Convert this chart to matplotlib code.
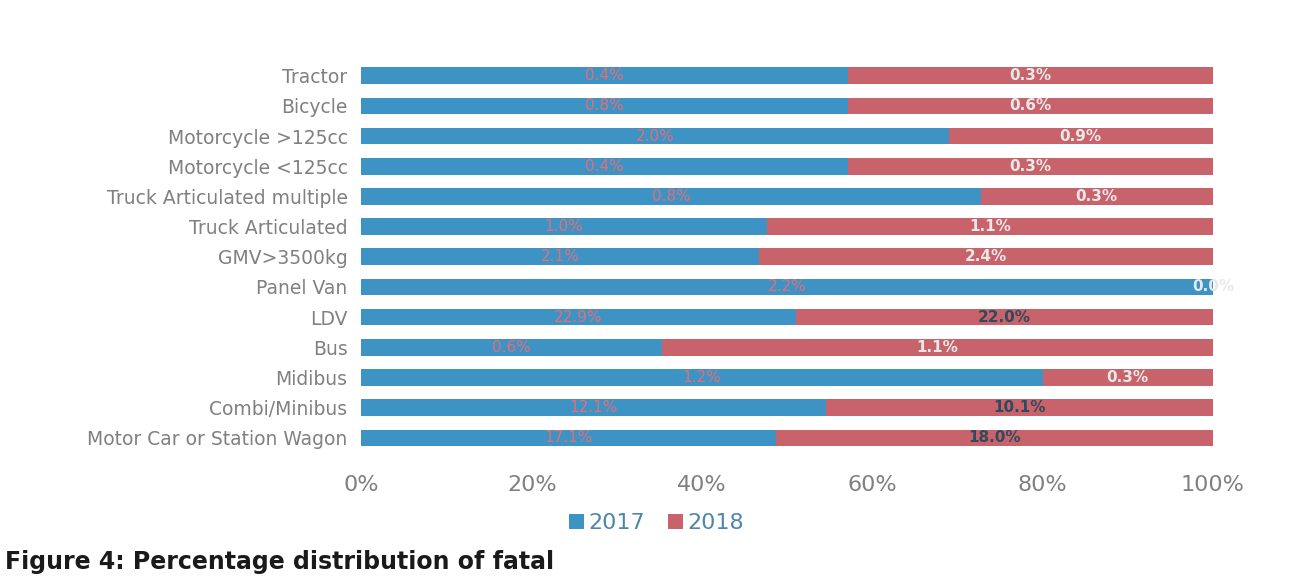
import numpy as np
import matplotlib
matplotlib.use("Agg")
import matplotlib.pyplot as plt

# vehicle types, top to bottom as in the figure
categories = ["Tractor", "Bicycle", "Motorcycle >125cc", "Motorcycle <125cc",
              "Truck Articulated multiple", "Truck Articulated", "GMV>3500kg",
              "Panel Van", "LDV", "Bus", "Midibus", "Combi/Minibus",
              "Motor Car or Station Wagon"]

# share of fatalities (%) per year, as printed in the bars
pct_2017 = [0.4, 0.8, 2.0, 0.4, 0.8, 1.0, 2.1, 2.2, 22.9, 0.6, 1.2, 12.1, 17.1]
pct_2018 = [0.3, 0.6, 0.9, 0.3, 0.3, 1.1, 2.4, 0.0, 22.0, 1.1, 0.3, 10.1, 18.0]

ticks = [0, 20, 40, 60, 80, 100]

blue = "#3d93c3"
red = "#c9636b"

a = np.array(pct_2017)
b = np.array(pct_2018)
tot = a + b
share17 = a / tot * 100
share18 = b / tot * 100

fig = plt.figure(figsize=(13, 5.77), dpi=100)
ax = fig.add_axes([0.278, 0.215, 0.655, 0.68])

y = np.arange(len(categories))
ax.barh(y, share17, height=0.55, color=blue, label="2017")
ax.barh(y, share18, left=share17, height=0.55, color=red, label="2018")

# data labels
for i in range(len(categories)):
    ax.text(share17[i] / 2, y[i], f"{pct_2017[i]:.1f}%", ha="center", va="center",
            fontsize=11, color="#e0707a")
    ax.text(share17[i] + share18[i] / 2, y[i], f"{pct_2018[i]:.1f}%", ha="center",
            va="center", fontsize=11, color="#e8e8e8" if pct_2018[i] < 5 else "#2f4a5c",
            fontweight="bold")

ax.set_ylim(len(categories) - 0.5, -0.5)
ax.set_xlim(0, 100)
ax.set_yticks(y)
ax.set_yticklabels(categories, fontsize=13.5, color="#808080")
ax.set_xticks(ticks)
ax.set_xticklabels([f"{t}%" for t in ticks], fontsize=16, color="#808080")
ax.tick_params(length=0, pad=10)
ax.tick_params(axis="x", pad=16)
for s in ax.spines.values():
    s.set_visible(False)

leg = fig.legend(loc="center", bbox_to_anchor=(0.505, 0.093), ncol=2, frameon=False,
                 fontsize=16, handlelength=0.7, handleheight=0.7, handletextpad=0.2,
                 columnspacing=1.0)
for t in leg.get_texts():
    t.set_color("#4f86a8")

fig.text(0.004, 0.005, "Figure 4: Percentage distribution of fatal", fontsize=17,
         fontweight="bold", color="#1a1a1a", ha="left", va="bottom")

fig.savefig("out.png", dpi=100)
